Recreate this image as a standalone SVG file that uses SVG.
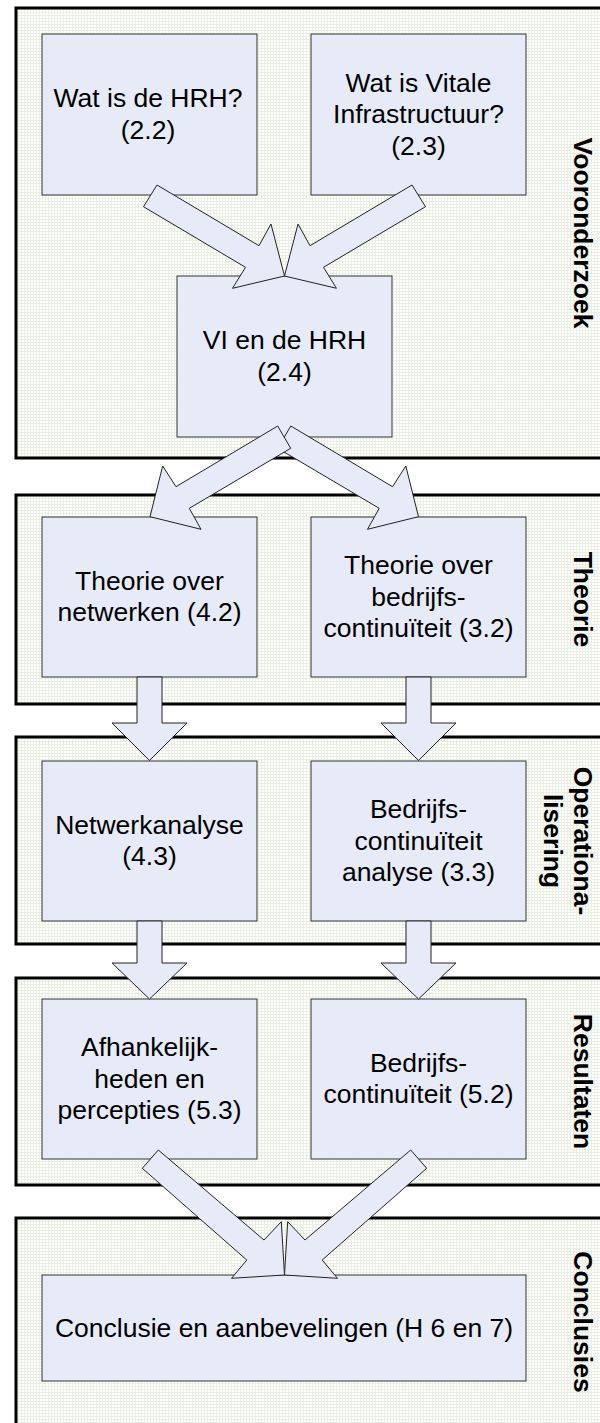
<svg xmlns="http://www.w3.org/2000/svg" width="600" height="1423" viewBox="0 0 600 1423">
  <defs>
    <!-- fine dotted fill used for the phase panels -->
    <pattern id="dots" patternUnits="userSpaceOnUse" width="3" height="3">
      <rect width="3" height="3" fill="#ebefe3"/>
      <rect x="1" y="1" width="2" height="2" fill="#ffffff"/>
    </pattern>
    <style>
      .panel { fill: url(#dots); stroke: #000; stroke-width: 3; }
      .box { fill: #e7ebf7; stroke: #333; stroke-width: 1; }
      .arrow { fill: #e7ebf7; stroke: #222; stroke-width: 1; stroke-linejoin: miter; }
      .txt { font-family: "Liberation Sans", Arial, sans-serif; font-size: 26.5px; fill: #000; text-anchor: middle; }
      .lbl { font-family: "Liberation Sans", Arial, sans-serif; font-size: 26.5px; font-weight: bold; fill: #000; text-anchor: middle; }
    </style>
  </defs>

  <rect width="600" height="1423" fill="#ffffff"/>

  <!-- phase panels -->
  <g id="panels">
    <g id="panel-vooronderzoek">
      <rect class="panel" x="16" y="8" width="600" height="450"/>
      <text class="lbl" transform="translate(574,233) rotate(90)">Vooronderzoek</text>
    </g>
    <g id="panel-theorie">
      <rect class="panel" x="16" y="495" width="600" height="209"/>
      <text class="lbl" transform="translate(574,599.5) rotate(90)">Theorie</text>
    </g>
    <g id="panel-operationalisering">
      <rect class="panel" x="16" y="737" width="600" height="207"/>
      <text class="lbl" transform="translate(574,841) rotate(90)"><tspan x="0" y="0">Operationa-</tspan><tspan x="0" y="30">lisering</tspan></text>
    </g>
    <g id="panel-resultaten">
      <rect class="panel" x="16" y="978" width="600" height="207"/>
      <text class="lbl" transform="translate(574,1081.5) rotate(90)">Resultaten</text>
    </g>
    <g id="panel-conclusies">
      <rect class="panel" x="16" y="1218" width="600" height="210"/>
      <text class="lbl" transform="translate(574,1322) rotate(90)">Conclusies</text>
    </g>
  </g>

  <!-- content boxes -->
  <g id="hrh">
    <rect class="box" x="42" y="34" width="215" height="161"/>
    <text class="txt"><tspan x="148" y="107.3">Wat is de HRH?</tspan><tspan x="148" y="138.8">(2.2)</tspan></text>
  </g>
  <g id="vitale-infrastructuur">
    <rect class="box" x="311" y="34" width="215" height="161"/>
    <text class="txt"><tspan x="418.5" y="91.5">Wat is Vitale</tspan><tspan x="418.5" y="123">Infrastructuur?</tspan><tspan x="418.5" y="154.5">(2.3)</tspan></text>
  </g>
  <g id="vi-hrh">
    <rect class="box" x="177" y="276" width="215" height="161"/>
    <text class="txt"><tspan x="284.5" y="349.3">VI en de HRH</tspan><tspan x="284.5" y="380.8">(2.4)</tspan></text>
  </g>
  <g id="theorie-netwerken">
    <rect class="box" x="42" y="517" width="215" height="160"/>
    <text class="txt"><tspan x="149.5" y="589.8">Theorie over</tspan><tspan x="149.5" y="621.3">netwerken (4.2)</tspan></text>
  </g>
  <g id="theorie-continuiteit">
    <rect class="box" x="311" y="517" width="215" height="160"/>
    <text class="txt"><tspan x="418.5" y="574">Theorie over</tspan><tspan x="418.5" y="605.5">bedrijfs-</tspan><tspan x="418.5" y="637">continuïteit (3.2)</tspan></text>
  </g>
  <g id="netwerkanalyse">
    <rect class="box" x="42" y="761" width="215" height="160"/>
    <text class="txt"><tspan x="149.5" y="833.8">Netwerkanalyse</tspan><tspan x="149.5" y="865.3">(4.3)</tspan></text>
  </g>
  <g id="continuiteit-analyse">
    <rect class="box" x="311" y="761" width="215" height="160"/>
    <text class="txt"><tspan x="418.5" y="818">Bedrijfs-</tspan><tspan x="418.5" y="849.5">continuïteit</tspan><tspan x="418.5" y="881">analyse (3.3)</tspan></text>
  </g>
  <g id="afhankelijkheden">
    <rect class="box" x="42" y="999" width="215" height="160"/>
    <text class="txt"><tspan x="149.5" y="1056">Afhankelijk-</tspan><tspan x="149.5" y="1087.5">heden en</tspan><tspan x="149.5" y="1119">percepties (5.3)</tspan></text>
  </g>
  <g id="bedrijfscontinuiteit">
    <rect class="box" x="311" y="999" width="215" height="160"/>
    <text class="txt"><tspan x="418.5" y="1071.8">Bedrijfs-</tspan><tspan x="418.5" y="1103.3">continuïteit (5.2)</tspan></text>
  </g>
  <g id="conclusie">
    <rect class="box" x="42" y="1275" width="484" height="106"/>
    <text class="txt" x="284" y="1336.5">Conclusie en aanbevelingen (H 6 en 7)</text>
  </g>

  <!-- block-arrow connectors -->
  <g id="connectors">
    <polygon class="arrow" points="143.5,206.7 245.5,267.3 232.5,288.3 284.5,276 271,224 259,245.7 157,185"/>
    <polygon class="arrow" points="425.5,206.7 323.5,267.3 336.5,288.3 284.5,276 298,224 310,245.7 412,185"/>

    <polygon class="arrow" points="290.8,426 392.5,486.7 405.8,466 418.5,516.7 367.5,529.3 379.2,508.3 277.8,448.3"/>
    <polygon class="arrow" points="277.7,426 176,486.7 162.7,466 150,516.7 201,529.3 189.3,508.3 290.7,448.3"/>

    <polygon class="arrow" points="137,677 162,677 162,723 187,723 149.5,760.5 112,723 137,723"/>
    <polygon class="arrow" points="406,677 431,677 431,723 456,723 418.5,760.5 381,723 406,723"/>

    <polygon class="arrow" points="137,921 162,921 162,963 187,963 149.5,999 112,963 137,963"/>
    <polygon class="arrow" points="406,921 431,921 431,963 456,963 418.5,999 381,963 406,963"/>

    <polygon class="arrow" points="142.3,1168.3 246.8,1260 231.5,1278.3 284.5,1275 281.3,1221.7 264,1240 158.3,1150"/>
    <polygon class="arrow" points="426.7,1168.3 322.2,1260 337.5,1278.3 284.5,1275 287.7,1221.7 305,1240 410.7,1150"/>
  </g>
</svg>
